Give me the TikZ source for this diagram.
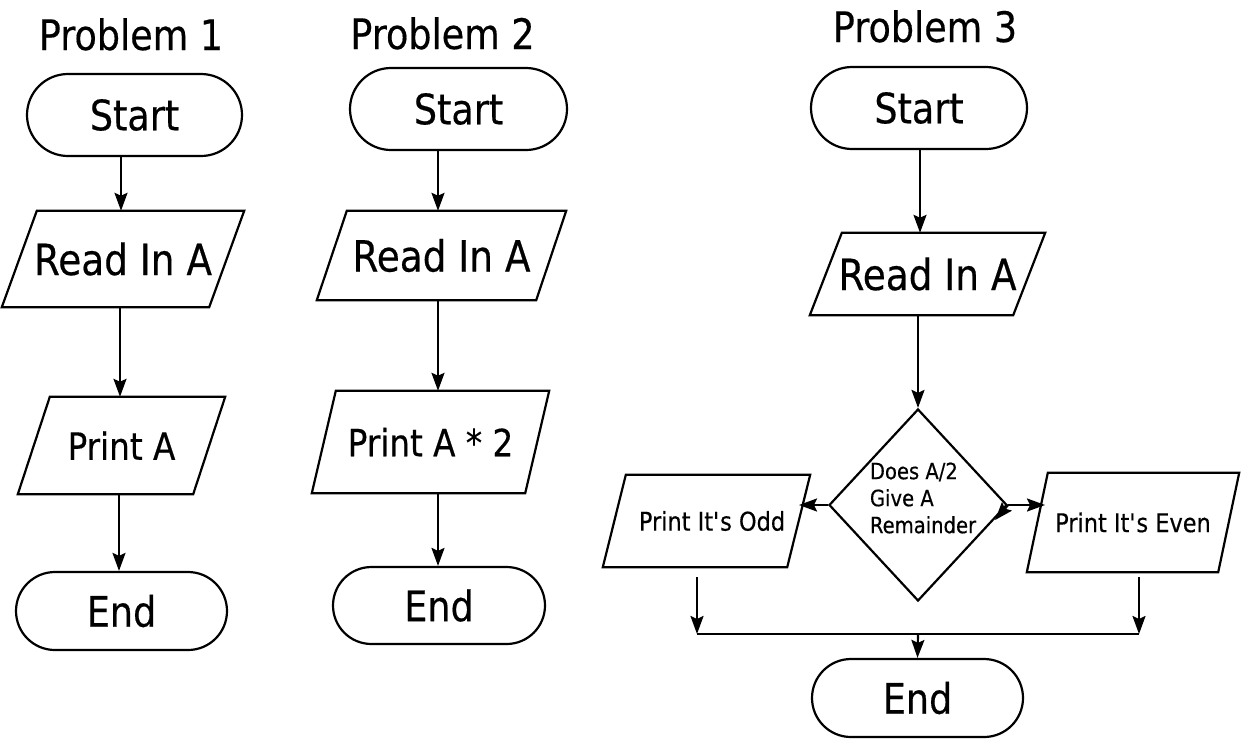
\documentclass[tikz,border=0pt]{standalone}
\usepackage{fontspec}
\setmainfont{DejaVu Sans}[FakeStretch=0.87,FakeBold=0.4]
\usetikzlibrary{arrows.meta,shapes.misc,shapes.geometric,calc}
\tikzset{
  lw/.style={line width=2.2pt},
  arr/.style={lw,-{Stealth[length=18pt,width=13pt,inset=3pt]}},
  terminal/.style={rounded rectangle,draw,lw,inner sep=0pt,font=\fontsize{42}{48}\selectfont},
  parabox/.style={rectangle,inner sep=0pt},
  bigtxt/.style={font=\fontsize{43}{48}\selectfont},
  midtxt/.style={font=\fontsize{37.5}{42}\selectfont},
  smalltxt/.style={font=\fontsize{25.8}{30}\selectfont},
  title/.style={anchor=base,inner sep=0pt,font=\fontsize{42}{46}\selectfont},
  decision/.style={diamond,draw,lw,inner sep=0pt,minimum width=178pt,minimum height=192pt},
}
\newcommand{\drawpara}[2]{%
  \draw[lw,line join=miter] ($(#1.north west)+(#2,0)$) -- (#1.north east) -- ($(#1.south east)-(#2,0)$) -- (#1.south west) -- cycle;}
\begin{document}
\begin{tikzpicture}[x=1pt,y=-1pt]
\useasboundingbox (0,0) rectangle (1241,739);
% ---------- Problem 1 ----------
\node[title] (t1) at (131,50) {Problem 1};
\node[terminal,minimum width=215pt,minimum height=82pt] (s1) at (134.5,115) {Start};
\node[parabox,bigtxt,minimum width=242pt,minimum height=96pt] (r1) at (123,259) {Read In A};
\drawpara{r1}{35}
\node[parabox,midtxt,minimum width=207pt,minimum height=97pt] (p1) at (121.5,445.5) {Print A};
\drawpara{p1}{32}
\node[terminal,minimum width=211pt,minimum height=78pt] (e1) at (121.5,611) {End};
\draw[arr] (121,0 |- s1.south) -- (121,0 |- r1.north);
\draw[arr] (120,0 |- r1.south) -- (120,0 |- p1.north);
\draw[arr] (119,0 |- p1.south) -- (119,0 |- e1.north);
% ---------- Problem 2 ----------
\node[title] (t2) at (442.5,49) {Problem 2};
\node[terminal,minimum width=217pt,minimum height=82pt] (s2) at (458.5,109) {Start};
\node[parabox,bigtxt,minimum width=249pt,minimum height=89pt] (r2) at (441.5,255.5) {Read In A};
\drawpara{r2}{30}
\node[parabox,midtxt,minimum width=237pt,minimum height=102pt] (p2) at (430.5,442) {Print A * 2};
\drawpara{p2}{24}
\node[terminal,minimum width=212pt,minimum height=77pt] (e2) at (439,605.5) {End};
\draw[arr] (438,0 |- s2.south) -- (438,0 |- r2.north);
\draw[arr] (438,0 |- r2.south) -- (438,0 |- p2.north);
\draw[arr] (438,0 |- p2.south) -- (438,0 |- e2.north);
% ---------- Problem 3 ----------
\node[title] (t3) at (925,42) {Problem 3};
\node[terminal,minimum width=216pt,minimum height=82pt] (s3) at (919,108) {Start};
\node[parabox,bigtxt,minimum width=235pt,minimum height=82pt] (r3) at (927.5,274) {Read In A};
\drawpara{r3}{32}
\node[decision] (dec) at (918,505) {};
\node[inner sep=0pt,align=left,font=\fontsize{22.5}{27}\selectfont] (dtext) at (923,498) {Does A/2\\Give A\\Remainder};
\node[parabox,smalltxt,minimum width=207pt,minimum height=92pt] (odd) at (706.5,521) {};
\drawpara{odd}{23}
\node[smalltxt,inner sep=0pt] (oddtext) at (712,521) {Print It\textquotesingle s Odd};
\node[parabox,smalltxt,minimum width=212pt,minimum height=99pt] (even) at (1133,522.5) {Print It\textquotesingle s Even};
\drawpara{even}{21}
\node[terminal,minimum width=211pt,minimum height=78pt] (e3) at (917.5,698) {End};
\coordinate (oddout) at (697,577);
\coordinate (evenout) at (1139,577);
\coordinate (jl) at (697,634);
\coordinate (jr) at (1139,634);
\coordinate (jm) at (918,634);
\draw[arr] (920,0 |- s3.south) -- (920,0 |- r3.north);
\draw[arr] (918,0 |- r3.south) -- (dec.north);
\draw[arr] (dec.west) -- (799,0 |- dec.west);
\draw[arr] (dec.east) -- (1045,0 |- dec.east);
\draw[arr] (dec.east) -- ++(-13,15);
\draw[arr] (oddout) -- (jl);
\draw[arr] (evenout) -- (jr);
\draw[lw] (jl) -- (jr);
\draw[arr] (jm) -- (e3.north);
\end{tikzpicture}
\end{document}
